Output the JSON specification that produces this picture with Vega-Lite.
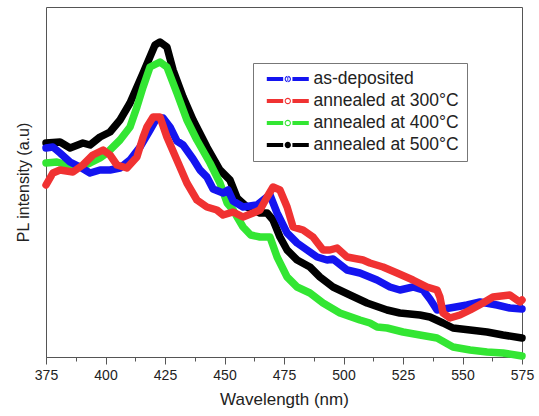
{
  "$schema": "https://vega.github.io/schema/vega-lite/v6.json",
  "width": 476,
  "height": 350,
  "padding": {"left": 15, "top": 7, "right": 12, "bottom": 5},
  "background": "white",
  "config": {
    "font": "Liberation Sans",
    "view": {"stroke": "#555", "strokeWidth": 1}
  },
  "data": {
    "values": [
      {"series": "annealed at 500°C", "wavelength": 375, "intensity": 214},
      {"series": "annealed at 500°C", "wavelength": 380.9, "intensity": 215},
      {"series": "annealed at 500°C", "wavelength": 385.1, "intensity": 209},
      {"series": "annealed at 500°C", "wavelength": 390.5, "intensity": 214},
      {"series": "annealed at 500°C", "wavelength": 393.5, "intensity": 212},
      {"series": "annealed at 500°C", "wavelength": 397.7, "intensity": 220},
      {"series": "annealed at 500°C", "wavelength": 401.9, "intensity": 225},
      {"series": "annealed at 500°C", "wavelength": 406.1, "intensity": 237},
      {"series": "annealed at 500°C", "wavelength": 410.3, "intensity": 254},
      {"series": "annealed at 500°C", "wavelength": 415.8, "intensity": 284},
      {"series": "annealed at 500°C", "wavelength": 420.8, "intensity": 312},
      {"series": "annealed at 500°C", "wavelength": 422.9, "intensity": 315},
      {"series": "annealed at 500°C", "wavelength": 425.8, "intensity": 310},
      {"series": "annealed at 500°C", "wavelength": 428.4, "intensity": 287},
      {"series": "annealed at 500°C", "wavelength": 432.6, "intensity": 260},
      {"series": "annealed at 500°C", "wavelength": 436.8, "intensity": 237},
      {"series": "annealed at 500°C", "wavelength": 442.6, "intensity": 210},
      {"series": "annealed at 500°C", "wavelength": 448.1, "intensity": 187},
      {"series": "annealed at 500°C", "wavelength": 452.3, "intensity": 177},
      {"series": "annealed at 500°C", "wavelength": 455.3, "intensity": 159},
      {"series": "annealed at 500°C", "wavelength": 459.5, "intensity": 150},
      {"series": "annealed at 500°C", "wavelength": 464.9, "intensity": 144},
      {"series": "annealed at 500°C", "wavelength": 467.9, "intensity": 144},
      {"series": "annealed at 500°C", "wavelength": 470.4, "intensity": 137},
      {"series": "annealed at 500°C", "wavelength": 473.3, "intensity": 120},
      {"series": "annealed at 500°C", "wavelength": 476.3, "intensity": 107},
      {"series": "annealed at 500°C", "wavelength": 480.5, "intensity": 97},
      {"series": "annealed at 500°C", "wavelength": 485.9, "intensity": 90},
      {"series": "annealed at 500°C", "wavelength": 490.1, "intensity": 80},
      {"series": "annealed at 500°C", "wavelength": 495.6, "intensity": 70},
      {"series": "annealed at 500°C", "wavelength": 502.7, "intensity": 62},
      {"series": "annealed at 500°C", "wavelength": 509.9, "intensity": 54},
      {"series": "annealed at 500°C", "wavelength": 518.3, "intensity": 47},
      {"series": "annealed at 500°C", "wavelength": 523.7, "intensity": 44},
      {"series": "annealed at 500°C", "wavelength": 532.1, "intensity": 42},
      {"series": "annealed at 500°C", "wavelength": 536.3, "intensity": 40},
      {"series": "annealed at 500°C", "wavelength": 541.8, "intensity": 34},
      {"series": "annealed at 500°C", "wavelength": 546.0, "intensity": 29},
      {"series": "annealed at 500°C", "wavelength": 553.2, "intensity": 27},
      {"series": "annealed at 500°C", "wavelength": 560.3, "intensity": 25},
      {"series": "annealed at 500°C", "wavelength": 567.0, "intensity": 22},
      {"series": "annealed at 500°C", "wavelength": 575, "intensity": 19},

      {"series": "annealed at 400°C", "wavelength": 375, "intensity": 194},
      {"series": "annealed at 400°C", "wavelength": 379.6, "intensity": 195},
      {"series": "annealed at 400°C", "wavelength": 383.8, "intensity": 192},
      {"series": "annealed at 400°C", "wavelength": 386.3, "intensity": 189},
      {"series": "annealed at 400°C", "wavelength": 390.5, "intensity": 191},
      {"series": "annealed at 400°C", "wavelength": 393.5, "intensity": 194},
      {"series": "annealed at 400°C", "wavelength": 397.7, "intensity": 199},
      {"series": "annealed at 400°C", "wavelength": 400.6, "intensity": 204},
      {"series": "annealed at 400°C", "wavelength": 406.1, "intensity": 217},
      {"series": "annealed at 400°C", "wavelength": 410.3, "intensity": 230},
      {"series": "annealed at 400°C", "wavelength": 413.2, "intensity": 250},
      {"series": "annealed at 400°C", "wavelength": 415.8, "intensity": 270},
      {"series": "annealed at 400°C", "wavelength": 418.7, "intensity": 290},
      {"series": "annealed at 400°C", "wavelength": 422.9, "intensity": 295},
      {"series": "annealed at 400°C", "wavelength": 425.8, "intensity": 290},
      {"series": "annealed at 400°C", "wavelength": 430.0, "intensity": 264},
      {"series": "annealed at 400°C", "wavelength": 434.2, "intensity": 237},
      {"series": "annealed at 400°C", "wavelength": 438.4, "intensity": 217},
      {"series": "annealed at 400°C", "wavelength": 443.9, "intensity": 194},
      {"series": "annealed at 400°C", "wavelength": 448.1, "intensity": 174},
      {"series": "annealed at 400°C", "wavelength": 451.1, "intensity": 154},
      {"series": "annealed at 400°C", "wavelength": 453.6, "intensity": 147},
      {"series": "annealed at 400°C", "wavelength": 457.8, "intensity": 130},
      {"series": "annealed at 400°C", "wavelength": 461.0, "intensity": 122},
      {"series": "annealed at 400°C", "wavelength": 464.9, "intensity": 120},
      {"series": "annealed at 400°C", "wavelength": 469.1, "intensity": 120},
      {"series": "annealed at 400°C", "wavelength": 472.1, "intensity": 100},
      {"series": "annealed at 400°C", "wavelength": 476.3, "intensity": 80},
      {"series": "annealed at 400°C", "wavelength": 480.5, "intensity": 70},
      {"series": "annealed at 400°C", "wavelength": 485.9, "intensity": 64},
      {"series": "annealed at 400°C", "wavelength": 491.4, "intensity": 54},
      {"series": "annealed at 400°C", "wavelength": 498.5, "intensity": 44},
      {"series": "annealed at 400°C", "wavelength": 506.9, "intensity": 37},
      {"series": "annealed at 400°C", "wavelength": 511.1, "intensity": 34},
      {"series": "annealed at 400°C", "wavelength": 514.1, "intensity": 30},
      {"series": "annealed at 400°C", "wavelength": 518.3, "intensity": 29},
      {"series": "annealed at 400°C", "wavelength": 525.0, "intensity": 25},
      {"series": "annealed at 400°C", "wavelength": 532.1, "intensity": 22},
      {"series": "annealed at 400°C", "wavelength": 539.3, "intensity": 19},
      {"series": "annealed at 400°C", "wavelength": 546.0, "intensity": 10},
      {"series": "annealed at 400°C", "wavelength": 553.2, "intensity": 7},
      {"series": "annealed at 400°C", "wavelength": 560.3, "intensity": 5},
      {"series": "annealed at 400°C", "wavelength": 567.0, "intensity": 4},
      {"series": "annealed at 400°C", "wavelength": 575, "intensity": 1},

      {"series": "as-deposited", "wavelength": 375, "intensity": 209},
      {"series": "as-deposited", "wavelength": 377.9, "intensity": 210},
      {"series": "as-deposited", "wavelength": 380.9, "intensity": 204},
      {"series": "as-deposited", "wavelength": 385.1, "intensity": 195},
      {"series": "as-deposited", "wavelength": 389.3, "intensity": 190},
      {"series": "as-deposited", "wavelength": 393.5, "intensity": 184},
      {"series": "as-deposited", "wavelength": 397.7, "intensity": 187},
      {"series": "as-deposited", "wavelength": 401.9, "intensity": 187},
      {"series": "as-deposited", "wavelength": 406.1, "intensity": 189},
      {"series": "as-deposited", "wavelength": 410.3, "intensity": 197},
      {"series": "as-deposited", "wavelength": 414.5, "intensity": 210},
      {"series": "as-deposited", "wavelength": 418.7, "intensity": 227},
      {"series": "as-deposited", "wavelength": 421.6, "intensity": 239},
      {"series": "as-deposited", "wavelength": 424.2, "intensity": 239},
      {"series": "as-deposited", "wavelength": 427.1, "intensity": 230},
      {"series": "as-deposited", "wavelength": 430.0, "intensity": 216},
      {"series": "as-deposited", "wavelength": 432.6, "intensity": 212},
      {"series": "as-deposited", "wavelength": 436.8, "intensity": 198},
      {"series": "as-deposited", "wavelength": 439.7, "intensity": 187},
      {"series": "as-deposited", "wavelength": 442.6, "intensity": 180},
      {"series": "as-deposited", "wavelength": 445.2, "intensity": 168},
      {"series": "as-deposited", "wavelength": 449.4, "intensity": 164},
      {"series": "as-deposited", "wavelength": 451.5, "intensity": 167},
      {"series": "as-deposited", "wavelength": 453.6, "intensity": 156},
      {"series": "as-deposited", "wavelength": 457.8, "intensity": 150},
      {"series": "as-deposited", "wavelength": 463.7, "intensity": 152},
      {"series": "as-deposited", "wavelength": 467.9, "intensity": 160},
      {"series": "as-deposited", "wavelength": 469.1, "intensity": 162},
      {"series": "as-deposited", "wavelength": 472.1, "intensity": 144},
      {"series": "as-deposited", "wavelength": 476.3, "intensity": 124},
      {"series": "as-deposited", "wavelength": 480.5, "intensity": 114},
      {"series": "as-deposited", "wavelength": 484.7, "intensity": 107},
      {"series": "as-deposited", "wavelength": 488.9, "intensity": 100},
      {"series": "as-deposited", "wavelength": 493.1, "intensity": 97},
      {"series": "as-deposited", "wavelength": 495.6, "intensity": 98},
      {"series": "as-deposited", "wavelength": 501.5, "intensity": 87},
      {"series": "as-deposited", "wavelength": 506.9, "intensity": 84},
      {"series": "as-deposited", "wavelength": 514.1, "intensity": 77},
      {"series": "as-deposited", "wavelength": 519.5, "intensity": 70},
      {"series": "as-deposited", "wavelength": 523.7, "intensity": 67},
      {"series": "as-deposited", "wavelength": 529.2, "intensity": 70},
      {"series": "as-deposited", "wavelength": 533.4, "intensity": 67},
      {"series": "as-deposited", "wavelength": 536.3, "intensity": 58},
      {"series": "as-deposited", "wavelength": 539.3, "intensity": 47},
      {"series": "as-deposited", "wavelength": 544.7, "intensity": 49},
      {"series": "as-deposited", "wavelength": 551.9, "intensity": 52},
      {"series": "as-deposited", "wavelength": 557.4, "intensity": 55},
      {"series": "as-deposited", "wavelength": 564.5, "intensity": 52},
      {"series": "as-deposited", "wavelength": 569.9, "intensity": 49},
      {"series": "as-deposited", "wavelength": 575, "intensity": 48},

      {"series": "annealed at 300°C", "wavelength": 375, "intensity": 172},
      {"series": "annealed at 300°C", "wavelength": 377.9, "intensity": 184},
      {"series": "annealed at 300°C", "wavelength": 380.9, "intensity": 187},
      {"series": "annealed at 300°C", "wavelength": 386.3, "intensity": 185},
      {"series": "annealed at 300°C", "wavelength": 390.5, "intensity": 192},
      {"series": "annealed at 300°C", "wavelength": 394.7, "intensity": 202},
      {"series": "annealed at 300°C", "wavelength": 399.0, "intensity": 207},
      {"series": "annealed at 300°C", "wavelength": 401.9, "intensity": 202},
      {"series": "annealed at 300°C", "wavelength": 404.8, "intensity": 192},
      {"series": "annealed at 300°C", "wavelength": 409.0, "intensity": 189},
      {"series": "annealed at 300°C", "wavelength": 413.2, "intensity": 200},
      {"series": "annealed at 300°C", "wavelength": 415.8, "intensity": 220},
      {"series": "annealed at 300°C", "wavelength": 417.4, "intensity": 230},
      {"series": "annealed at 300°C", "wavelength": 420.0, "intensity": 240},
      {"series": "annealed at 300°C", "wavelength": 422.9, "intensity": 240},
      {"series": "annealed at 300°C", "wavelength": 425.8, "intensity": 220},
      {"series": "annealed at 300°C", "wavelength": 430.0, "intensity": 197},
      {"series": "annealed at 300°C", "wavelength": 434.2, "intensity": 174},
      {"series": "annealed at 300°C", "wavelength": 438.4, "intensity": 157},
      {"series": "annealed at 300°C", "wavelength": 442.6, "intensity": 150},
      {"series": "annealed at 300°C", "wavelength": 446.8, "intensity": 147},
      {"series": "annealed at 300°C", "wavelength": 449.4, "intensity": 142},
      {"series": "annealed at 300°C", "wavelength": 453.6, "intensity": 145},
      {"series": "annealed at 300°C", "wavelength": 457.8, "intensity": 140},
      {"series": "annealed at 300°C", "wavelength": 462.0, "intensity": 144},
      {"series": "annealed at 300°C", "wavelength": 464.9, "intensity": 147},
      {"series": "annealed at 300°C", "wavelength": 467.9, "intensity": 160},
      {"series": "annealed at 300°C", "wavelength": 470.4, "intensity": 170},
      {"series": "annealed at 300°C", "wavelength": 473.3, "intensity": 167},
      {"series": "annealed at 300°C", "wavelength": 476.3, "intensity": 150},
      {"series": "annealed at 300°C", "wavelength": 478.8, "intensity": 130},
      {"series": "annealed at 300°C", "wavelength": 483.0, "intensity": 127},
      {"series": "annealed at 300°C", "wavelength": 487.2, "intensity": 120},
      {"series": "annealed at 300°C", "wavelength": 491.4, "intensity": 107},
      {"series": "annealed at 300°C", "wavelength": 494.3, "intensity": 107},
      {"series": "annealed at 300°C", "wavelength": 497.3, "intensity": 109},
      {"series": "annealed at 300°C", "wavelength": 501.5, "intensity": 100},
      {"series": "annealed at 300°C", "wavelength": 508.2, "intensity": 97},
      {"series": "annealed at 300°C", "wavelength": 511.1, "intensity": 94},
      {"series": "annealed at 300°C", "wavelength": 516.6, "intensity": 90},
      {"series": "annealed at 300°C", "wavelength": 522.5, "intensity": 84},
      {"series": "annealed at 300°C", "wavelength": 529.2, "intensity": 77},
      {"series": "annealed at 300°C", "wavelength": 535.1, "intensity": 70},
      {"series": "annealed at 300°C", "wavelength": 539.3, "intensity": 67},
      {"series": "annealed at 300°C", "wavelength": 540.5, "intensity": 60},
      {"series": "annealed at 300°C", "wavelength": 541.8, "intensity": 44},
      {"series": "annealed at 300°C", "wavelength": 544.7, "intensity": 39},
      {"series": "annealed at 300°C", "wavelength": 548.9, "intensity": 42},
      {"series": "annealed at 300°C", "wavelength": 553.2, "intensity": 47},
      {"series": "annealed at 300°C", "wavelength": 558.6, "intensity": 54},
      {"series": "annealed at 300°C", "wavelength": 562.8, "intensity": 60},
      {"series": "annealed at 300°C", "wavelength": 569.9, "intensity": 62},
      {"series": "annealed at 300°C", "wavelength": 574.1, "intensity": 55},
      {"series": "annealed at 300°C", "wavelength": 575, "intensity": 57}
    ]
  },
  "mark": {"type": "line", "strokeWidth": 7.5, "strokeJoin": "round", "strokeCap": "round", "interpolate": "linear"},
  "encoding": {
    "x": {
      "field": "wavelength",
      "type": "quantitative",
      "scale": {"domain": [375, 575], "nice": false, "zero": false},
      "axis": {
        "title": "Wavelength (nm)",
        "titleFontSize": 17,
        "titleFontWeight": "normal",
        "titleColor": "#222",
        "titlePadding": 9,
        "labelFontSize": 14,
        "labelColor": "#222",
        "labelPadding": 4,
        "labelFlush": false,
        "labelOverlap": false,
        "grid": false,
        "domainColor": "#555",
        "tickColor": "#555",
        "values": [375, 387.5, 400, 412.5, 425, 437.5, 450, 462.5, 475, 487.5, 500, 512.5, 525, 537.5, 550, 562.5, 575],
        "labelExpr": "datum.value % 25 === 0 ? datum.label : ''",
        "tickSize": {"condition": {"test": "datum.value % 25 === 0", "value": 7}, "value": 4}
      }
    },
    "y": {
      "field": "intensity",
      "type": "quantitative",
      "scale": {"domain": [0, 350], "nice": false},
      "axis": {
        "title": "PL intensity (a.u)",
        "titleFontSize": 16,
        "titleFontWeight": "normal",
        "titleColor": "#222",
        "titlePadding": 15,
        "labels": false,
        "ticks": false,
        "domain": false,
        "grid": false
      }
    },
    "color": {
      "field": "series",
      "type": "nominal",
      "scale": {
        "domain": ["as-deposited", "annealed at 300°C", "annealed at 400°C", "annealed at 500°C"],
        "range": ["#1414f0", "#f03232", "#33e633", "#000000"]
      },
      "legend": {
        "title": null,
        "orient": "none",
        "legendX": 207,
        "legendY": 56,
        "padding": 7.5,
        "strokeColor": "#777",
        "fillColor": "white",
        "labelFontSize": 17.5,
        "labelColor": "#222",
        "labelOffset": 11,
        "rowPadding": 4,
        "clipHeight": 17,
        "symbolSize": 1764,
        "symbolType": "M-0.7,-0.1H0.08V0.1H-0.7Z M0.52,-0.1H1.3V0.1H0.52Z",
        "labelExpr": "datum.label + '\u00a0\u00a0\u00a0'",
        "encode": {
          "symbols": {
            "update": {
              "fill": {"scale": "color", "field": "value"},
              "stroke": {"value": "transparent"},
              "strokeWidth": {"value": 0},
              "opacity": {"value": 1},
              "shape": {"signal": "datum.value === 'annealed at 500°C' ? 'M-0.7,-0.1H0.08V0.1H-0.7Z M0.52,-0.1H1.3V0.1H0.52Z M0.45,0A0.15,0.15 0 1,0 0.15,0A0.15,0.15 0 1,0 0.45,0Z' : datum.value === 'as-deposited' ? 'M-0.7,-0.1H0.08V0.1H-0.7Z M0.52,-0.1H1.3V0.1H0.52Z M0.45,0A0.15,0.15 0 1,0 0.15,0A0.15,0.15 0 1,0 0.45,0Z M0.4,0A0.1,0.1 0 1,1 0.2,0A0.1,0.1 0 1,1 0.4,0Z M0.28,-0.15H0.32V0.15H0.28Z' : 'M-0.7,-0.1H0.08V0.1H-0.7Z M0.52,-0.1H1.3V0.1H0.52Z M0.45,0A0.15,0.15 0 1,0 0.15,0A0.15,0.15 0 1,0 0.45,0Z M0.4,0A0.1,0.1 0 1,1 0.2,0A0.1,0.1 0 1,1 0.4,0Z'"}
            }
          }
        }
      }
    }
  }
}
